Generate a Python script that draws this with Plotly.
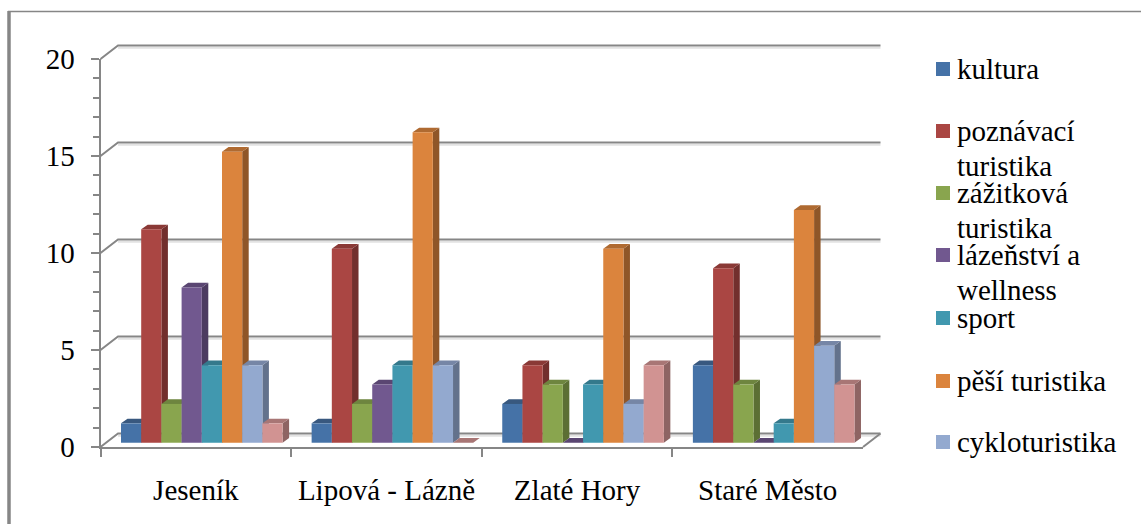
import plotly.graph_objects as go

W, H = 1141, 524
categories = ["Jeseník", "Lipová - Lázně", "Zlaté Hory", "Staré Město"]
kultura = [1, 1, 2, 4]
poznavaci = [11, 10, 4, 9]
zazitkova = [2, 2, 3, 3]
lazenstvi = [8, 3, 0, 0]
sport = [4, 4, 3, 1]
pesi = [15, 16, 10, 12]
cyklo = [4, 4, 2, 5]
osma = [1, 0, 4, 3]
series_values = [kultura, poznavaci, zazitkova, lazenstvi, sport, pesi, cyklo, osma]
series_names = ["kultura", "poznávací turistika", "zážitková turistika", "lázeňství a wellness",
                "sport", "pěší turistika", "cykloturistika", "nepopsaná řada"]
front_colors = ["#4572A7", "#AA4643", "#89A54E", "#71588F", "#4198AF", "#DB843D", "#93A9CF", "#D19392"]
side_colors = ["#2F4D72", "#722F2D", "#5C6F34", "#4C3B60", "#2C6676", "#8F5628", "#63728C", "#8E6463"]
top_colors = ["#38587F", "#8A3936", "#6E853F", "#5A4672", "#34798C", "#AF6A31", "#7686A6", "#A87675"]
legend_rows = [(["kultura"], 69), (["poznávací", "turistika"], 131), (["zážitková", "turistika"], 193),
               (["lázeňství a", "wellness"], 255), (["sport"], 318), (["pěší turistika"], 381),
               (["cykloturistika"], 442)]
y_ticks = [0, 5, 10, 15, 20]

GREY = "#868686"
FONT = "Liberation Serif"
FS = 29
X0, X4, Y0, Y20 = 100.5, 863.0, 447.0, 59.0
PX_X = (X4 - X0) / 4
PX_Y = (Y0 - Y20) / 20
BAR_W = 20.2 / PX_X
BAR_START = 20.5 / PX_X
BASE = 0.22
DDX, DDY = 6.5 / PX_X, 4.7 / PX_Y
WDX, WDY = 17.5 / PX_X, 13.5 / PX_Y

fig = go.Figure()
# category/value axes carrier
fig.add_trace(go.Scatter(x=categories, y=[0] * 4, mode="markers", marker=dict(opacity=0), hoverinfo="skip",
                         showlegend=False, xaxis="x", yaxis="y"))

# back wall and floor
wx, wy = [], []
for t in y_ticks:
    wx += [0, WDX, 4 + WDX, None]
    wy += [t, t + WDY, t + WDY, None]
sx = [WDX, 4 + WDX, None] * 5
sy = []
for t in y_ticks:
    sy += [t + WDY - 0.12, t + WDY - 0.12, None]
fig.add_trace(go.Scatter(x=sx, y=sy, mode="lines", line=dict(color="#E2E2E2", width=2), hoverinfo="skip",
                         showlegend=False, xaxis="x2", yaxis="y2"))
fig.add_trace(go.Scatter(x=wx, y=wy, mode="lines", line=dict(color=GREY, width=2), hoverinfo="skip",
                         showlegend=False, xaxis="x2", yaxis="y2"))
fig.add_trace(go.Scatter(x=[4, 4 + WDX], y=[0, WDY], mode="lines", line=dict(color=GREY, width=2),
                         hoverinfo="skip", showlegend=False, xaxis="x2", yaxis="y2"))

# side and top faces, left to right
for s, vals in enumerate(series_values):
    lefts = [c + BAR_START + s * BAR_W for c in range(4)]
    px, py, tx, ty = [], [], [], []
    for l, v in zip(lefts, vals):
        r = l + BAR_W
        top = v + BASE
        px += [r, r + DDX, r + DDX, r, r, None]
        py += [BASE, BASE + DDY, top + DDY, top, BASE, None]
        tx += [l, l + DDX, r + DDX, r, l, None]
        ty += [top, top + DDY, top + DDY, top, top, None]
    fig.add_trace(go.Scatter(x=px, y=py, mode="lines", fill="toself", fillcolor=side_colors[s],
                             line=dict(width=0, color=side_colors[s]), hoverinfo="skip", showlegend=False,
                             xaxis="x2", yaxis="y2"))
    fig.add_trace(go.Scatter(x=tx, y=ty, mode="lines", fill="toself", fillcolor=top_colors[s],
                             line=dict(width=0, color=top_colors[s]), hoverinfo="skip", showlegend=False,
                             xaxis="x2", yaxis="y2"))

# front faces
for s, vals in enumerate(series_values):
    lefts = [c + BAR_START + s * BAR_W for c in range(4)]
    fig.add_trace(go.Bar(x=[l + BAR_W / 2 for l in lefts], y=vals, base=BASE, width=BAR_W,
                         name=series_names[s], marker=dict(color=front_colors[s], line=dict(width=0)),
                         showlegend=False, xaxis="x3", yaxis="y3"))

x_ext = [-X0 / PX_X, (W - X0) / PX_X]
y_ext = [-(H - Y0) / PX_Y, Y0 / PX_Y]
hidden = dict(visible=False, fixedrange=True)

annotations, shapes = [], []
for idx, (lines, yc) in enumerate(legend_rows):
    shapes.append(dict(type="rect", xref="paper", yref="paper", x0=936 / W, x1=950 / W,
                       y0=1 - (yc + 7) / H, y1=1 - (yc - 7) / H,
                       fillcolor=front_colors[idx], line=dict(width=0)))
    for k, line in enumerate(lines):
        annotations.append(dict(text=line, xref="paper", yref="paper", x=955 / W, y=1 - (yc + 35 * k) / H,
                                xanchor="left", yanchor="middle", showarrow=False,
                                font=dict(family=FONT, size=FS, color="#000000")))

shapes += [
    dict(type="line", xref="paper", yref="paper", x0=9 / W, x1=9 / W, y0=0, y1=1 - 11 / H,
         line=dict(color=GREY, width=3.5)),
    dict(type="line", xref="paper", yref="paper", x0=8 / W, x1=1, y0=1 - 11.5 / H, y1=1 - 11.5 / H,
         line=dict(color=GREY, width=1.5)),
]

fig.update_layout(
    width=W, height=H, autosize=False, margin=dict(l=0, r=0, t=0, b=0, autoexpand=False),
    paper_bgcolor="white", plot_bgcolor="rgba(0,0,0,0)", showlegend=False, barmode="overlay",
    annotations=annotations, shapes=shapes,
    font=dict(family=FONT, size=FS, color="#000000"),
    xaxis=dict(type="category", domain=[X0 / W, X4 / W], range=[-0.5, 3.5], tickson="boundaries",
               ticks="outside", ticklen=8, tickwidth=2, tickcolor=GREY, showgrid=False, zeroline=False,
               showline=True, linecolor=GREY, linewidth=2, anchor="y", ticklabelstandoff=16,
               tickfont=dict(family=FONT, size=FS, color="#000000"), fixedrange=True),
    yaxis=dict(domain=[1 - Y0 / H, 1 - Y20 / H], range=[0, 20], tickvals=y_ticks,
               ticks="outside", ticklen=8, tickwidth=2, tickcolor=GREY, showgrid=False, zeroline=False,
               showline=True, linecolor=GREY, linewidth=2, anchor="x", ticklabelstandoff=10,
               minor=dict(dtick=1, ticks="outside", ticklen=6, tickwidth=2, tickcolor=GREY, showgrid=False),
               tickfont=dict(family=FONT, size=FS, color="#000000"), fixedrange=True),
    xaxis2=dict(domain=[0, 1], range=x_ext, anchor="y2", **hidden),
    yaxis2=dict(domain=[0, 1], range=y_ext, anchor="x2", **hidden),
    xaxis3=dict(range=x_ext, anchor="y3", overlaying="x2", **hidden),
    yaxis3=dict(range=y_ext, anchor="x3", overlaying="y2", **hidden),
)
fig.write_html("out.html", config={"displayModeBar": False},
               post_script="document.body.style.margin='0';")
